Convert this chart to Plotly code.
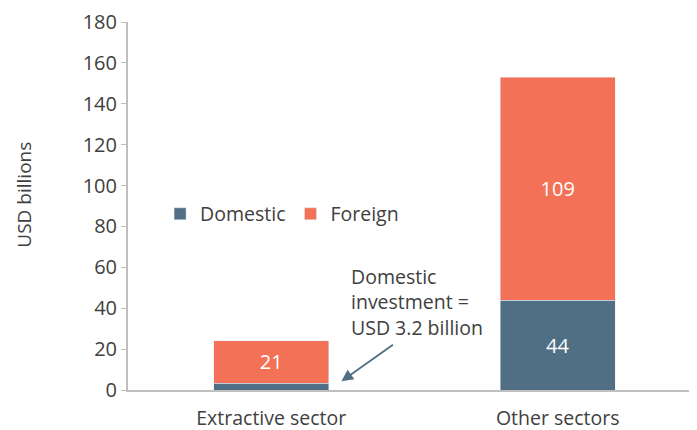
import plotly.graph_objects as go

sectors = ["Extractive sector", "Other sectors"]
domestic = [3.2, 44]
foreign = [21, 109]
domestic_labels = ["", "44"]
foreign_labels = ["21", "109"]

font = "'Open Sans', sans-serif"
grey = "#404040"

fig = go.Figure()
fig.add_trace(go.Bar(x=sectors, y=domestic, name="Domestic", marker_color="#506F84",
                     text=domestic_labels, textposition="inside", insidetextanchor="middle",
                     textfont=dict(color="white", size=20)))
fig.add_trace(go.Bar(x=sectors, y=foreign, name="Foreign", marker_color="#F37157",
                     text=foreign_labels, textposition="inside", insidetextanchor="middle",
                     textfont=dict(color="white", size=20)))

fig.add_annotation(x=0.272, y=43, xref="x", yref="y", xanchor="left", yanchor="middle",
                   text="Domestic<br>investment =<br>USD 3.2 billion", showarrow=False,
                   align="left", font=dict(size=19.5, color=grey))
fig.add_annotation(x=0.245, y=4.3, ax=0.43, ay=22.7, xref="x", yref="y", axref="x", ayref="y",
                   text="", showarrow=True, arrowhead=2, arrowsize=1.3, arrowwidth=1.8,
                   arrowcolor="#506F84")
# axis title, sits a bit above the middle of the axis
fig.add_annotation(x=-0.182, y=0.53, xref="paper", yref="paper", text="USD billions",
                   textangle=-90, showarrow=False, xanchor="center", yanchor="middle",
                   borderpad=0, font=dict(size=19, color=grey))

# page body adds a small offset
fig.update_layout(
    barmode="stack", bargap=0.6,
    width=693, height=430,
    margin=dict(l=120, r=0, t=10, b=48),
    paper_bgcolor="white", plot_bgcolor="white",
    font=dict(family=font, size=19, color=grey),
    showlegend=True,
    legend=dict(orientation="h", x=0.056, y=0.478, xanchor="left", yanchor="middle",
                font=dict(size=19.5, color=grey), bgcolor="rgba(0,0,0,0)",
                traceorder="normal", itemwidth=30),
)
fig.update_xaxes(showline=True, linecolor="#BFBFBF", linewidth=2, ticks="",
                 ticklabelstandoff=10, tickfont=dict(size=19.5, color=grey))
fig.update_yaxes(range=[0, 180], dtick=20, showgrid=False, zeroline=False,
                 showline=True, linecolor="#BFBFBF", linewidth=2,
                 ticks="outside", ticklen=5, tickcolor="#BFBFBF",
                 ticklabeloverflow="allow",
                 tickfont=dict(size=20, color=grey))

fig.write_html("out.html")
